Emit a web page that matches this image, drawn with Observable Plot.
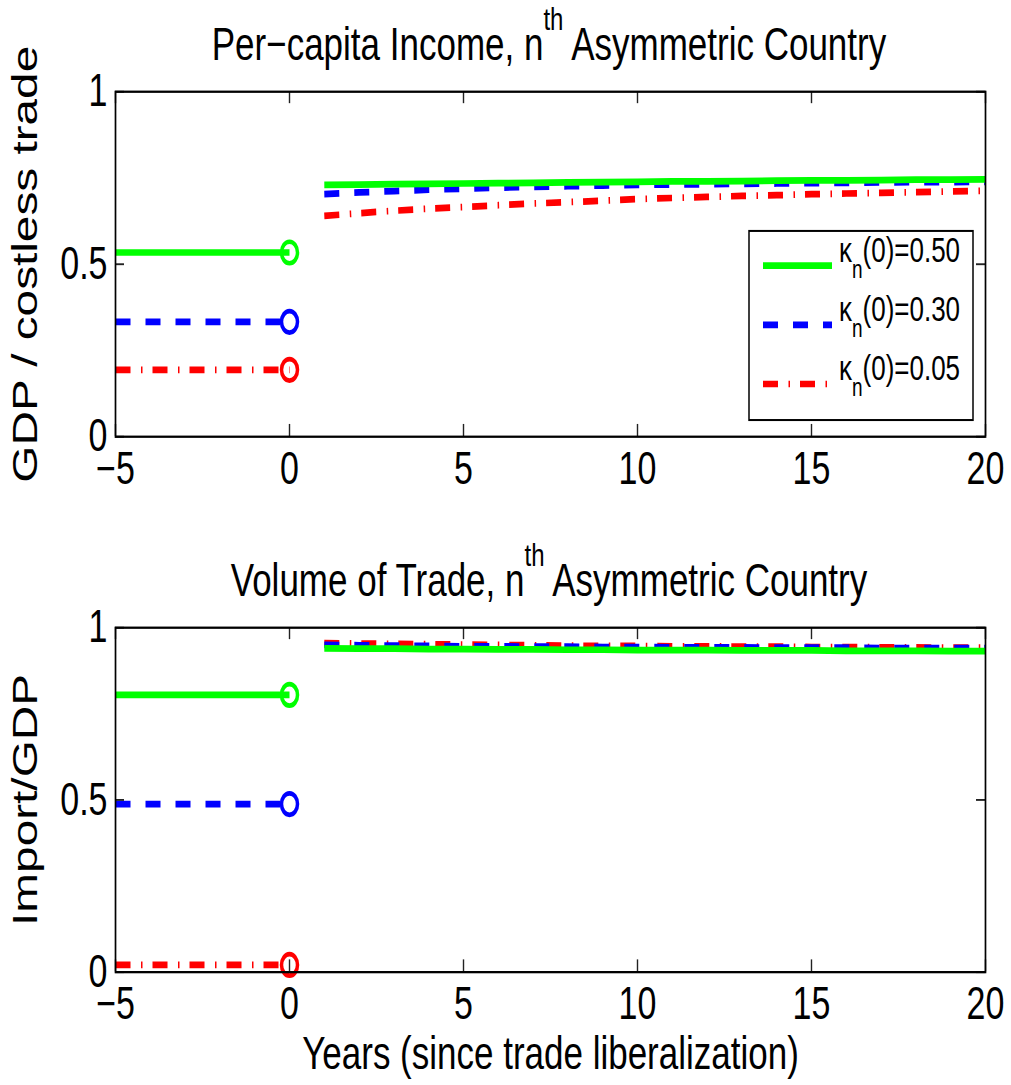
<!DOCTYPE html>
<html>
<head>
<meta charset="utf-8">
<script src="https://cdn.jsdelivr.net/npm/d3@7"></script>
<script src="https://cdn.jsdelivr.net/npm/@observablehq/plot@0.6"></script>
<style>
  html, body { margin: 0; padding: 0; background: #fff; }
  #outer { position: relative; width: 1011px; height: 1085px; overflow: hidden; background: #fff; }
  #stage { position: absolute; left: 0; top: 0; width: 1011px; height: 807px;
           transform: scaleY(1.345); transform-origin: 0 0;
           font-family: "Liberation Sans", Arial, Helvetica, sans-serif; }
  .panel { position: absolute; left: 0; }
  .overlay { position: absolute; left: 0; top: 0; pointer-events: none; }
</style>
</head>
<body>
<div id="outer"><div id="stage"></div></div>
<script>
// ---------------- data ----------------
const yearsBefore = [-5, -4, -3, -2, -1, 0];
const yearsAfter = [1, 2, 3, 4, 5, 6, 7, 8, 9, 10, 11, 12, 13, 14, 15, 16, 17, 18, 19, 20];
const seriesKeys = ["0.50", "0.30", "0.05"];

// Per-capita income (GDP / costless trade)
const incomeBefore = [0.534, 0.333, 0.194];
const incomeAfterK50 = [0.730, 0.731, 0.732, 0.733, 0.734, 0.735, 0.736, 0.737, 0.738, 0.739,
                        0.740, 0.740, 0.741, 0.742, 0.743, 0.743, 0.744, 0.745, 0.745, 0.746];
const incomeAfterK30 = [0.703, 0.708, 0.712, 0.716, 0.719, 0.722, 0.724, 0.726, 0.728, 0.730,
                        0.731, 0.732, 0.733, 0.734, 0.735, 0.736, 0.737, 0.738, 0.738, 0.739];
const incomeAfterK05 = [0.640, 0.648, 0.655, 0.661, 0.666, 0.671, 0.676, 0.680, 0.684, 0.689,
                        0.692, 0.695, 0.698, 0.700, 0.703, 0.705, 0.707, 0.709, 0.711, 0.713];

// Volume of trade (Import / GDP)
const tradeBefore = [0.805, 0.488, 0.021];
const tradeAfterK50 = [0.940, 0.939, 0.939, 0.938, 0.938, 0.937, 0.937, 0.936, 0.936, 0.935,
                       0.935, 0.935, 0.934, 0.934, 0.934, 0.933, 0.933, 0.933, 0.932, 0.932];
const tradeAfterK30 = [0.950, 0.949, 0.948, 0.947, 0.946, 0.946, 0.945, 0.945, 0.944, 0.944,
                       0.943, 0.943, 0.943, 0.942, 0.942, 0.942, 0.941, 0.941, 0.941, 0.941];
const tradeAfterK05 = [0.955, 0.954, 0.953, 0.952, 0.951, 0.950, 0.949, 0.948, 0.947, 0.947,
                       0.946, 0.946, 0.945, 0.945, 0.944, 0.944, 0.943, 0.943, 0.942, 0.942];

const xTicks = [-5, 0, 5, 10, 15, 20];
const yTicks = [0, 0.5, 1];

// ---------------- styles ----------------
const seriesColor = {"0.50": "#00ff00", "0.30": "#0000ff", "0.05": "#ff0000"};
const seriesDash = {"0.50": null, "0.30": "15,15", "0.05": "15,10.5,1.5,10"};
const FONT = '"Liberation Sans", Arial, Helvetica, sans-serif';

function buildRows(before, afterArrays) {
  const rows = [];
  seriesKeys.forEach((k, i) => {
    yearsBefore.forEach(y => rows.push({series: k, phase: "before", year: y, value: before[i]}));
    yearsAfter.forEach((y, j) => rows.push({series: k, phase: "after", year: y, value: afterArrays[i][j]}));
  });
  return rows;
}

const incomeRows = buildRows(incomeBefore, [incomeAfterK50, incomeAfterK30, incomeAfterK05]);
const tradeRows = buildRows(tradeBefore, [tradeAfterK50, tradeAfterK30, tradeAfterK05]);

const W = 1011, ML = 115, MR = 26;
const plotW = W - ML - MR;

function panel({rows, height, mt, mb, ylabel, xlabel}) {
  const plotH = height - mt - mb;
  const marks = [];
  ["0.05", "0.30", "0.50"].forEach(k => {
    const d = rows.filter(r => r.series === k);
    marks.push(Plot.line(d, {x: "year", y: "value", z: "phase", stroke: seriesColor[k], strokeWidth: 5,
      strokeDasharray: seriesDash[k], strokeLinecap: "butt", strokeLinejoin: "round"}));
    marks.push(Plot.dot(d.filter(r => r.year === 0), {x: "year", y: "value", r: 8, stroke: seriesColor[k],
      strokeWidth: 3.5, fill: "none"}));
  });
  // inward ticks, all four sides
  marks.push(Plot.tickX(xTicks, {x: d => d, insetTop: plotH - 9, stroke: "#222", strokeWidth: 1.4}));
  marks.push(Plot.tickX(xTicks, {x: d => d, insetBottom: plotH - 9, stroke: "#222", strokeWidth: 1.4}));
  marks.push(Plot.tickY(yTicks, {y: d => d, insetRight: plotW - 9, stroke: "#222", strokeWidth: 1.4}));
  marks.push(Plot.tickY(yTicks, {y: d => d, insetLeft: plotW - 9, stroke: "#222", strokeWidth: 1.4}));
  marks.push(Plot.frame({stroke: "#000", strokeWidth: 1.7}));
  marks.push(Plot.axisX({ticks: xTicks, tickSize: 0, tickPadding: 11,
    tickFormat: d => (d < 0 ? "\u2212" + Math.abs(d) : String(d)),
    label: xlabel, labelAnchor: "center", labelOffset: 72, labelArrow: "none"}));
  marks.push(Plot.axisY({ticks: yTicks, tickSize: 0, tickPadding: 8,
    tickFormat: d => String(d),
    label: ylabel, labelAnchor: "center", labelOffset: 104, labelArrow: "none"}));
  const svg = Plot.plot({
    width: W, height,
    marginTop: mt, marginBottom: mb, marginLeft: ML, marginRight: MR,
    x: {domain: [-5, 20]},
    y: {domain: [0, 1]},
    style: {fontSize: "34px", fontFamily: FONT, color: "#000", background: "transparent", overflow: "visible"},
    marks
  });
  // axis titles sized to match the reference
  svg.querySelectorAll('g[aria-label="y-axis label"]').forEach(g => g.style.fontSize = "35.5px");
  svg.querySelectorAll('g[aria-label="x-axis label"]').forEach(g => g.style.fontSize = "35px");
  return svg;
}

const stage = document.getElementById("stage");

const top1 = panel({rows: incomeRows, height: 370, mt: 67.7, mb: 45.8, ylabel: "GDP / costless trade", xlabel: null});
top1.classList.add("panel"); top1.style.top = "0px";
stage.appendChild(top1);

const bot = panel({rows: tradeRows, height: 406.7, mt: 66.2, mb: 84.4, ylabel: "Import/GDP", xlabel: "Years (since trade liberalization)"});
bot.classList.add("panel"); bot.style.top = "400px";
stage.appendChild(bot);

// ---------------- titles + legend overlay ----------------
const NS = "http://www.w3.org/2000/svg";
const ov = document.createElementNS(NS, "svg");
ov.setAttribute("class", "overlay");
ov.setAttribute("width", W); ov.setAttribute("height", 807);
ov.style.fontFamily = FONT;
stage.appendChild(ov);

function title(y, before, after) {
  const t = document.createElementNS(NS, "text");
  t.setAttribute("x", 549); t.setAttribute("y", y);
  t.setAttribute("text-anchor", "middle");
  t.setAttribute("font-size", 35);
  const a = document.createElementNS(NS, "tspan"); a.textContent = before; t.appendChild(a);
  const s = document.createElementNS(NS, "tspan"); s.textContent = "th";
  s.setAttribute("font-size", 24); s.setAttribute("dy", -22); t.appendChild(s);
  const b = document.createElementNS(NS, "tspan"); b.textContent = " " + after;
  b.setAttribute("dy", 22); t.appendChild(b);
  ov.appendChild(t);
}
title(44.6, "Per\u2212capita Income, n", "Asymmetric Country");
title(443, "Volume of Trade, n", "Asymmetric Country");

// legend
const lg = {x: 749, y: 171.7, w: 224, h: 140.6};
const box = document.createElementNS(NS, "rect");
box.setAttribute("x", lg.x); box.setAttribute("y", lg.y);
box.setAttribute("width", lg.w); box.setAttribute("height", lg.h);
box.setAttribute("fill", "#fff"); box.setAttribute("stroke", "#000"); box.setAttribute("stroke-width", 1.5);
ov.appendChild(box);
const rowY = [197.5, 241.6, 285.5];
seriesKeys.forEach((k, i) => {
  const ln = document.createElementNS(NS, "line");
  ln.setAttribute("x1", 763); ln.setAttribute("x2", 832);
  ln.setAttribute("y1", rowY[i]); ln.setAttribute("y2", rowY[i]);
  ln.setAttribute("stroke", seriesColor[k]); ln.setAttribute("stroke-width", 5);
  if (seriesDash[k]) ln.setAttribute("stroke-dasharray", seriesDash[k]);
  ov.appendChild(ln);
  const t = document.createElementNS(NS, "text");
  t.setAttribute("x", 839); t.setAttribute("y", rowY[i] - 3);
  t.setAttribute("font-size", 26);
  const a = document.createElementNS(NS, "tspan"); a.textContent = "\u03ba"; t.appendChild(a);
  const s = document.createElementNS(NS, "tspan"); s.textContent = "n";
  s.setAttribute("font-size", 19); s.setAttribute("dy", 12); t.appendChild(s);
  const b = document.createElementNS(NS, "tspan"); b.textContent = "(0)=" + k;
  b.setAttribute("dy", -12); t.appendChild(b);
  ov.appendChild(t);
});
</script>
</body>
</html>
